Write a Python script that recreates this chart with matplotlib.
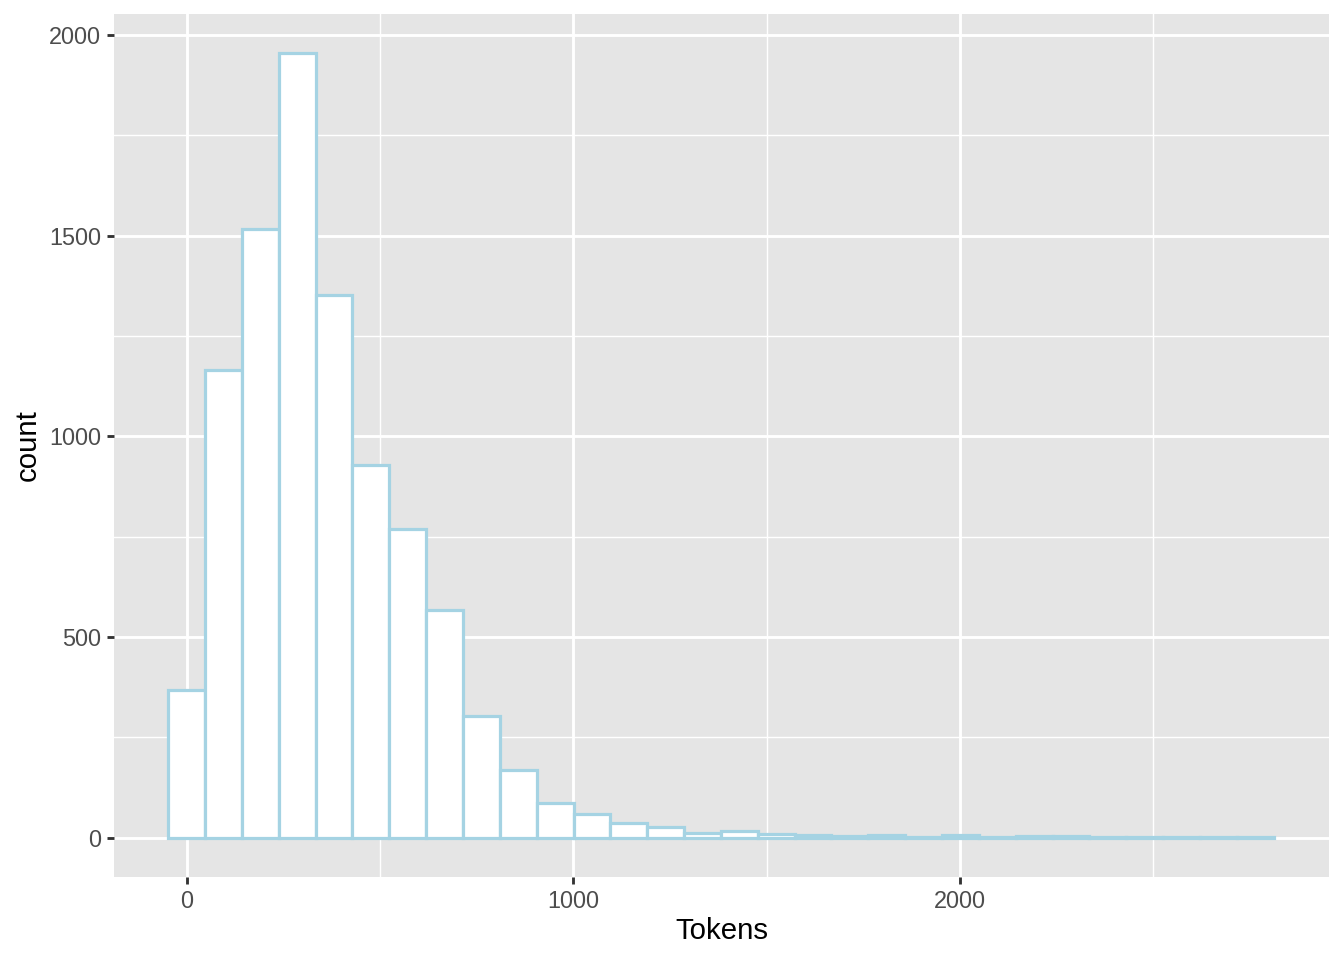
import numpy as np
import matplotlib
matplotlib.use("Agg")
import matplotlib.pyplot as plt

# histogram of token counts, 30 bins, bins centred on multiples of bin_width
bin_width = 95.3
counts = [369, 1166, 1517, 1955, 1352, 929, 770, 568, 304, 169,
          87, 60, 36, 28, 12, 16, 9, 7, 5, 8,
          2, 6, 2, 4, 5, 2, 1, 1, 3, 3]
x_ticks = [0, 1000, 2000]
y_ticks = [0, 500, 1000, 1500, 2000]

plt.rcParams["font.family"] = ["Liberation Sans", "DejaVu Sans"]


def main():
    centers = np.arange(len(counts)) * bin_width

    fig = plt.figure(figsize=(7, 5), dpi=192)
    ax = fig.add_axes([114 / 1344, 1 - 877 / 960, (1329 - 114) / 1344, (877 - 14) / 960])
    ax.set_facecolor("#E5E5E5")

    ax.bar(centers, counts, width=bin_width, align="center",
           facecolor="white", edgecolor="#A5D3E3", linewidth=1.2, zorder=3)

    # ggplot-like expansion of 5% on each side
    x0, x1 = centers[0] - bin_width / 2, centers[-1] + bin_width / 2
    dx = (x1 - x0) * 0.05
    ax.set_xlim(x0 - dx + 3, x1 + dx)
    ymax = max(counts)
    ax.set_ylim(-ymax * 0.05, ymax * 1.05)

    ax.set_xticks(x_ticks)
    ax.set_yticks(y_ticks)
    ax.set_xticks([500, 1500, 2500], minor=True)
    ax.set_yticks([250, 750, 1250, 1750], minor=True)
    ax.grid(which="major", color="white", linewidth=1.07, zorder=1)
    ax.grid(which="minor", color="white", linewidth=0.53, zorder=1)
    ax.set_axisbelow(True)

    for s in ax.spines.values():
        s.set_visible(False)
    ax.tick_params(which="major", length=2.75, width=1.07, color="#333333",
                   labelsize=8.8, labelcolor="#4D4D4D", pad=2.2)
    ax.tick_params(which="minor", length=0)

    ax.set_xlabel("Tokens", fontsize=11, color="black", labelpad=1.6)
    ax.set_ylabel("count", fontsize=11, color="black", labelpad=2.75)

    fig.savefig("out.png", dpi=192, facecolor="white")
    plt.close(fig)


if __name__ == "__main__":
    main()
